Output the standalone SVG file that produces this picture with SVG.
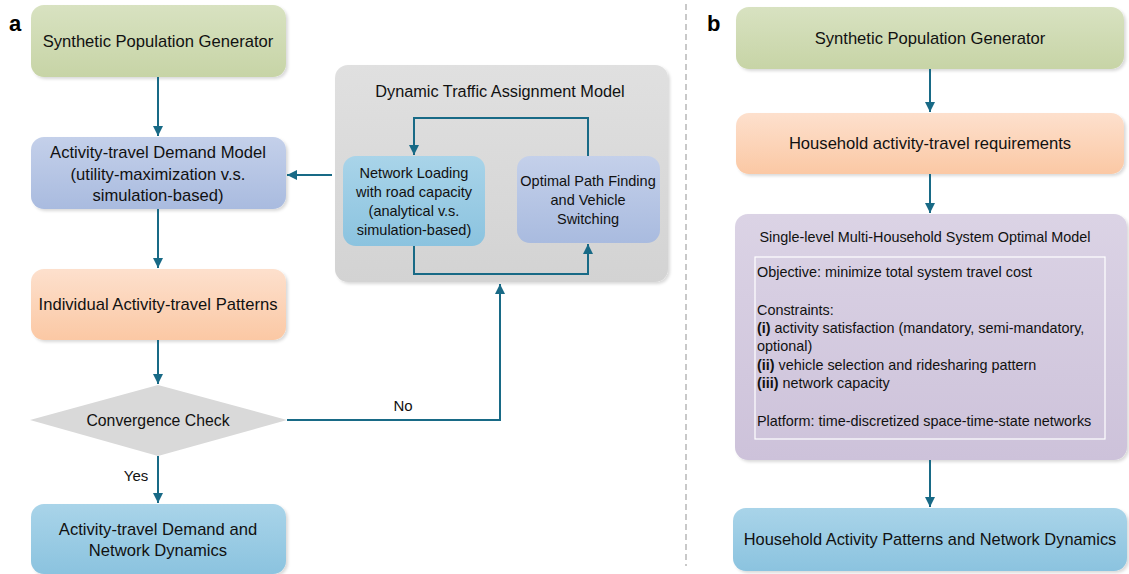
<svg xmlns="http://www.w3.org/2000/svg" width="1129" height="574" viewBox="0 0 1129 574">
  <defs>
    <linearGradient id="gGreen" x1="0" y1="0" x2="0" y2="1">
      <stop offset="0" stop-color="#d8e2c1"/>
      <stop offset="1" stop-color="#c7d4a6"/>
    </linearGradient>
    <linearGradient id="gPeach" x1="0" y1="0" x2="0" y2="1">
      <stop offset="0" stop-color="#fde0cd"/>
      <stop offset="1" stop-color="#fbc8a4"/>
    </linearGradient>
    <linearGradient id="gLav" x1="0" y1="0" x2="0" y2="1">
      <stop offset="0" stop-color="#c4d0ea"/>
      <stop offset="1" stop-color="#a9bbdf"/>
    </linearGradient>
    <linearGradient id="gSky" x1="0" y1="0" x2="0" y2="1">
      <stop offset="0" stop-color="#a9d4e9"/>
      <stop offset="1" stop-color="#8bc3df"/>
    </linearGradient>
    <linearGradient id="gGray" x1="0" y1="0" x2="0" y2="1">
      <stop offset="0" stop-color="#e0e0e0"/>
      <stop offset="1" stop-color="#d3d3d3"/>
    </linearGradient>
    <linearGradient id="gPurple" x1="0" y1="0" x2="0" y2="1">
      <stop offset="0" stop-color="#dbd3e5"/>
      <stop offset="1" stop-color="#cdc2da"/>
    </linearGradient>
    <marker id="arrow" viewBox="0 0 10 10" refX="10" refY="5" markerWidth="10" markerHeight="10" markerUnits="userSpaceOnUse" orient="auto">
      <path d="M0,0 L10,5 L0,10 z" fill="#186a86"/>
    </marker>
    <filter id="shadow" x="-5%" y="-5%" width="112%" height="115%">
      <feDropShadow dx="2" dy="2" stdDeviation="1.5" flood-color="#000" flood-opacity="0.15"/>
    </filter>
  </defs>
  <style>
    text { font-family: "Liberation Sans", Arial, sans-serif; fill: #111; }
    .t16 { font-size: 16.6px; text-anchor: middle; }
    .t15 { font-size: 16.3px; text-anchor: middle; }
    .t14 { font-size: 14.5px; text-anchor: middle; }
    .l13 { font-size: 14.4px; }
    .panel { font-size: 22px; font-weight: bold; fill: #000; }
    .node { filter: url(#shadow); }
    .conn { fill: none; stroke: #186a86; stroke-width: 2; }
  </style>
  <rect width="1129" height="574" fill="#ffffff"/>

  <!-- panel labels -->
  <text class="panel" x="9" y="31">a</text>
  <text class="panel" x="707" y="31">b</text>

  <!-- panel divider -->
  <line x1="686" y1="4" x2="686" y2="566" stroke="#a6a6a6" stroke-width="1.2" stroke-dasharray="6,4"/>

  <!-- ===== panel a ===== -->
  <g id="a-synthetic-population">
    <rect class="node" x="31" y="5" width="255" height="72" rx="13" fill="url(#gGreen)"/>
    <text class="t16" x="158" y="47">Synthetic Population Generator</text>
  </g>

  <g id="a-demand-model">
    <rect class="node" x="31" y="137" width="255" height="72" rx="13" fill="url(#gLav)"/>
    <text class="t16" x="158" y="158">Activity-travel Demand Model</text>
    <text class="t16" x="158" y="180">(utility-maximization v.s.</text>
    <text class="t16" x="158" y="201">simulation-based)</text>
  </g>

  <g id="a-activity-patterns">
    <rect class="node" x="31" y="269" width="255" height="71" rx="13" fill="url(#gPeach)"/>
    <text class="t16" x="158" y="310">Individual Activity-travel Patterns</text>
  </g>

  <g id="a-convergence-check">
    <polygon points="30,420 158,385 287,420 158,456" fill="#d9d9d9"/>
    <text x="158" y="426" style="font-size:15.8px;text-anchor:middle">Convergence Check</text>
  </g>

  <g id="a-output">
    <rect class="node" x="31" y="504" width="255" height="70" rx="13" fill="url(#gSky)"/>
    <text class="t16" x="158" y="535">Activity-travel Demand and</text>
    <text class="t16" x="158" y="556">Network Dynamics</text>
  </g>

  <g id="a-dta-model">
    <rect class="node" x="335" y="65" width="333" height="217" rx="13" fill="url(#gGray)"/>
    <text class="t15" x="500" y="97">Dynamic Traffic Assignment Model</text>
    <g id="a-network-loading">
      <rect x="343" y="156" width="142" height="90" rx="13" fill="url(#gSky)"/>
      <text class="t14" x="414" y="178">Network Loading</text>
      <text class="t14" x="414" y="197">with road capacity</text>
      <text class="t14" x="414" y="216">(analytical v.s.</text>
      <text class="t14" x="414" y="235">simulation-based)</text>
    </g>
    <g id="a-path-finding">
      <rect x="517" y="156" width="143" height="87" rx="13" fill="url(#gLav)"/>
      <text class="t14" x="588" y="186">Optimal Path Finding</text>
      <text class="t14" x="588" y="205">and Vehicle</text>
      <text class="t14" x="588" y="224">Switching</text>
    </g>
  </g>

  <!-- ===== panel b ===== -->
  <g id="b-synthetic-population">
    <rect class="node" x="736" y="7" width="388" height="62" rx="13" fill="url(#gGreen)"/>
    <text class="t16" x="930" y="44">Synthetic Population Generator</text>
  </g>

  <g id="b-requirements">
    <rect class="node" x="736" y="113" width="388" height="61" rx="13" fill="url(#gPeach)"/>
    <text class="t16" x="930" y="149">Household activity-travel requirements</text>
  </g>

  <g id="b-so-model">
    <rect class="node" x="735" y="214" width="392" height="246" rx="13" fill="url(#gPurple)"/>
    <text x="925" y="242" style="font-size:14.4px;text-anchor:middle">Single-level Multi-Household System Optimal Model</text>
    <rect x="755" y="257" width="350" height="182" fill="none" stroke="#ffffff" stroke-width="1.2"/>
    <text class="l13" x="757" y="277">Objective: minimize total system travel cost</text>
    <text class="l13" x="757" y="315">Constraints:</text>
    <text class="l13" x="757" y="333"><tspan font-weight="bold">(i)</tspan> activity satisfaction (mandatory, semi-mandatory,</text>
    <text class="l13" x="757" y="351">optional)</text>
    <text class="l13" x="757" y="370"><tspan font-weight="bold">(ii)</tspan> vehicle selection and ridesharing pattern</text>
    <text class="l13" x="757" y="388"><tspan font-weight="bold">(iii)</tspan> network capacity</text>
    <text class="l13" x="757" y="426">Platform: time-discretized space-time-state networks</text>
  </g>

  <g id="b-output">
    <rect class="node" x="733" y="508" width="394" height="63" rx="13" fill="url(#gSky)"/>
    <text x="930" y="545" style="font-size:16.4px;text-anchor:middle">Household Activity Patterns and Network Dynamics</text>
  </g>

  <!-- ===== connectors ===== -->
  <g id="connectors">
    <path class="conn" d="M158,77 V136" marker-end="url(#arrow)"/>
    <path class="conn" d="M332,175 H287" marker-end="url(#arrow)"/>
    <path class="conn" d="M158,209 V268" marker-end="url(#arrow)"/>
    <path class="conn" d="M158,340 V384" marker-end="url(#arrow)"/>
    <path class="conn" d="M158,456 V503" marker-end="url(#arrow)"/>
    <path class="conn" d="M287,420 H500 V284" marker-end="url(#arrow)"/>
    <path class="conn" d="M588,156 V118 H414 V155" marker-end="url(#arrow)"/>
    <path class="conn" d="M414,246 V274 H588 V244" marker-end="url(#arrow)"/>
    <text x="403" y="411" style="font-size:15px;text-anchor:middle">No</text>
    <text x="136" y="481" style="font-size:15px;text-anchor:middle">Yes</text>

    <path class="conn" d="M930,69 V112" marker-end="url(#arrow)"/>
    <path class="conn" d="M930,174 V213" marker-end="url(#arrow)"/>
    <path class="conn" d="M930,460 V507" marker-end="url(#arrow)"/>
  </g>
</svg>
